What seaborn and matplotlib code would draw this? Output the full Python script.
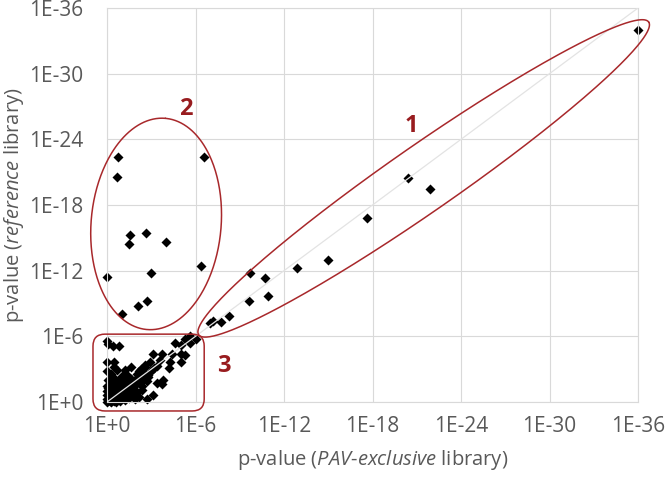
import numpy as np
import pandas as pd
import matplotlib
matplotlib.use("Agg")
import matplotlib.pyplot as plt
import seaborn as sns
from matplotlib.patches import FancyBboxPatch

# ---- data: -log10(p) values ----
# group 1 (strong in both libraries)
g1_pav = [36.0, 20.4, 21.9, 17.6, 15.0, 12.9, 9.7, 10.7, 10.9, 9.6, 8.3, 7.7, 7.2, 7.0]
g1_ref = [34.0, 20.5, 19.5, 16.8, 13.0, 12.2, 11.8, 11.3, 9.7, 9.2, 7.9, 7.3, 7.4, 7.2]
# group 2 (strong only in reference library)
g2_pav = [0.75, 0.68, 6.6, 1.56, 2.65, 1.5, 4.0, 6.4, 0.0, 3.0, 2.7, 2.1, 1.0]
g2_ref = [22.4, 20.6, 22.4, 15.3, 15.4, 14.4, 14.6, 12.4, 11.4, 11.8, 9.2, 8.8, 8.0]
# group 3 (weak in both)
g3_pav = [0.0, 0.1, 0.4, 0.8, 0.0, 0.5, 0.5, 0.0, 1.2, 1.6, 2.2,
          6.0, 5.6, 5.3, 5.6, 5.0, 4.6, 4.4, 5.0, 3.7, 3.1, 3.6, 4.3, 5.0, 5.3, 4.2, 2.9, 2.6,
          3.8, 3.4, 3.7, 2.8, 2.4, 3.1, 2.2, 2.7,
          0.0, 0.1, 0.2, 0.3, 0.4, 0.5, 0.6, 0.7, 0.8, 0.9, 1.0, 1.1, 1.2, 1.3, 1.4, 1.5,
          1.6, 1.7, 1.8, 1.9, 2.0, 2.1, 2.2, 2.3, 2.5, 2.6, 2.8, 3.0, 3.2, 3.4,
          0.0, 0.0, 0.0, 0.1, 0.2, 0.3, 0.4, 0.5, 0.6, 0.8, 0.9, 1.0, 1.2, 1.4, 0.3, 0.6,
          0.9, 1.2, 1.5, 1.8, 2.0, 1.1, 1.4, 1.7, 0.5, 0.8, 0.2, 0.0, 0.1, 0.4, 0.7, 1.0,
          1.3, 1.6, 2.4, 2.7, 2.0, 2.3, 2.6, 1.9, 0.3, 0.7]
g3_ref = [5.6, 5.3, 5.1, 5.1, 3.7, 3.7, 3.2, 2.8, 2.9, 3.2, 2.8,
          5.8, 6.0, 5.8, 5.4, 5.2, 5.4, 4.4, 4.4, 4.4, 4.4, 3.8, 3.7, 3.7, 4.3, 3.1, 3.7, 3.2,
          2.0, 1.7, 1.6, 2.3, 1.1, 0.6, 0.5, 0.3,
          0.0, 0.2, 0.1, 0.4, 0.2, 0.6, 0.3, 0.8, 0.5, 1.0, 0.7, 1.2, 0.9, 1.4, 1.1, 1.6,
          1.3, 1.8, 1.5, 2.0, 1.7, 2.2, 1.9, 2.4, 2.1, 2.6, 2.5, 2.8, 3.1, 3.3,
          0.6, 1.0, 1.5, 2.0, 1.2, 1.8, 1.4, 2.2, 1.6, 2.0, 1.6, 2.4, 2.0, 2.4, 0.0, 0.0,
          0.1, 0.2, 0.4, 0.6, 0.9, 0.4, 0.7, 1.0, 0.1, 0.3, 0.7, 0.3, 1.3, 0.9, 1.2, 1.5,
          1.8, 2.1, 1.5, 1.9, 2.6, 3.0, 3.4, 0.3, 2.6, 2.9]

tick_values = [0, 6, 12, 18, 24, 30, 36]
tick_labels = ["1E+0", "1E-6", "1E-12", "1E-18", "1E-24", "1E-30", "1E-36"]

df = pd.DataFrame({
    "pav": g1_pav + g2_pav + g3_pav,
    "ref": g1_ref + g2_ref + g3_ref,
})

# ---- style ----
sns.set_theme(style="white")
plt.rcParams["font.family"] = ["Open Sans", "DejaVu Sans"]
plt.rcParams["mathtext.fontset"] = "custom"
plt.rcParams["mathtext.rm"] = "Open Sans"
plt.rcParams["mathtext.it"] = "Open Sans:italic"

W, H = 666, 480
fig = plt.figure(figsize=(W / 100, H / 100), dpi=100)
L, R, T, B = 107, 638, 8, 402
ax = fig.add_axes([L / W, 1 - B / H, (R - L) / W, (B - T) / H])

grid_c = "#d9d9d9"
text_c = "#595959"
red = "#a8282b"
label_red = "#981c1f"

ax.set_xlim(0, 36)
ax.set_ylim(0, 36)
ax.set_xticks(tick_values)
ax.set_yticks(tick_values)
ax.set_xticklabels(tick_labels)
ax.set_yticklabels(tick_labels)
ax.grid(True, color=grid_c, lw=0.8)
ax.set_axisbelow(True)
for s in ax.spines.values():
    s.set_color(grid_c)
    s.set_linewidth(0.8)
ax.tick_params(axis="both", length=0, labelsize=15, colors=text_c)
ax.tick_params(axis="y", pad=17)
ax.tick_params(axis="x", pad=10)

sns.scatterplot(data=df, x="pav", y="ref", marker="D", color="black", s=26,
                linewidth=0, ax=ax, zorder=2, clip_on=False)

# diagonal y = x
ax.plot([0, 36], [0, 36], color="#e3e3e3", lw=0.9, zorder=3)

ax.set_xlabel(r"p-value ($\it{PAV}$-$\it{exclusive}$ library)", fontsize=14.5,
              color=text_c, labelpad=8)
ax.set_ylabel(r"p-value ($\it{reference}$ library)", fontsize=14.5, color=text_c)
ax.yaxis.set_label_coords(-(L - 26) / (R - L), 0.5)

# ---- annotations (ellipses in pixel-space shape, anchored in data) ----
ppx = (R - L) / 36.0
ppy = (B - T) / 36.0


def ellipse(cx, cy, a, b, ang):
    t = np.linspace(0, 2 * np.pi, 400)
    th = np.deg2rad(ang)
    X = a * np.cos(t) * np.cos(th) - b * np.sin(t) * np.sin(th)
    Y = a * np.cos(t) * np.sin(th) + b * np.sin(t) * np.cos(th)
    ax.plot(cx + X / ppx, cy + Y / ppy, color=red, lw=1.1, clip_on=False, zorder=4)


ellipse(21.47, 20.43, 274, 33, 34.8)
ellipse(3.33, 16.27, 106, 65, 85)

rx0, rx1 = -0.95, 6.59
ry0, ry1 = -0.82, 6.2
box = FancyBboxPatch((rx0, ry0), rx1 - rx0, ry1 - ry0,
                     boxstyle="round,pad=0,rounding_size=%f" % (12 / ppx),
                     mutation_aspect=ppx / ppy, fill=False, edgecolor=red,
                     lw=1.1, clip_on=False, zorder=4)
ax.add_patch(box)

for lab, (lx, ly) in zip(["1", "2", "3"], [(20.65, 25.2), (5.37, 26.8), (7.95, 3.3)]):
    ax.text(lx, ly, lab, color=label_red, fontsize=17, fontweight="bold",
            ha="center", va="center", zorder=5)

fig.savefig("out.png", dpi=100)
